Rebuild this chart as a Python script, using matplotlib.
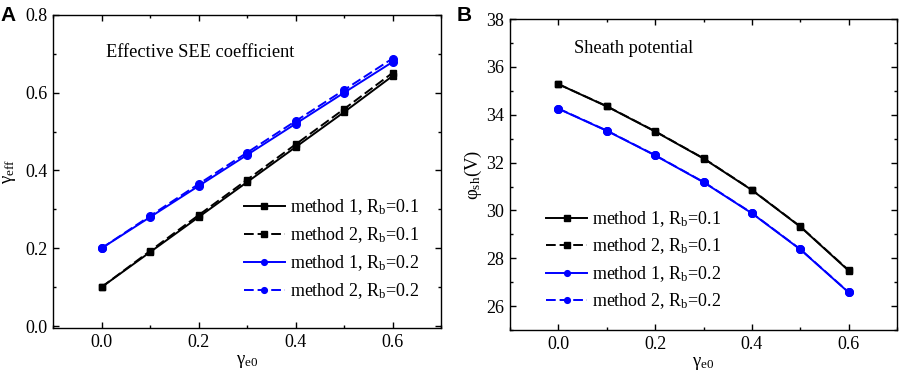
import numpy as np
import matplotlib
matplotlib.use('Agg')
import matplotlib.pyplot as plt
from matplotlib.ticker import MultipleLocator

plt.rcParams['font.family'] = ['Liberation Serif', 'DejaVu Serif']
plt.rcParams['mathtext.fontset'] = 'custom'
plt.rcParams['mathtext.rm'] = 'Liberation Serif'
plt.rcParams['mathtext.it'] = 'Liberation Serif'

gamma_e0 = [0.0, 0.1, 0.2, 0.3, 0.4, 0.5, 0.6]

# panel A: effective SEE coefficient
eff_m1_rb01 = [0.100, 0.190, 0.280, 0.370, 0.460, 0.550, 0.643]
eff_m2_rb01 = [0.100, 0.193, 0.285, 0.376, 0.467, 0.558, 0.651]
eff_m1_rb02 = [0.200, 0.280, 0.360, 0.440, 0.520, 0.600, 0.679]
eff_m2_rb02 = [0.200, 0.283, 0.365, 0.446, 0.527, 0.607, 0.688]

# panel B: sheath potential (V)
phi_m1_rb01 = [35.28, 34.35, 33.30, 32.17, 30.85, 29.32, 27.48]
phi_m2_rb01 = [35.28, 34.36, 33.31, 32.18, 30.86, 29.33, 27.50]
phi_m1_rb02 = [34.25, 33.33, 32.30, 31.18, 29.88, 28.37, 26.57]
phi_m2_rb02 = [34.26, 33.34, 32.31, 31.19, 29.89, 28.38, 26.58]

labels = [r'method 1, $\mathregular{R_b}$=0.1', r'method 2, $\mathregular{R_b}$=0.1',
          r'method 1, $\mathregular{R_b}$=0.2', r'method 2, $\mathregular{R_b}$=0.2']

blue = '#0000ff'
styles = [dict(color='black', ls='-', marker='s', ms=5),
          dict(color='black', ls=(0, (5, 2)), marker='s', ms=5),
          dict(color=blue, ls='-', marker='o', ms=5.5),
          dict(color=blue, ls=(0, (5, 2)), marker='o', ms=5.5)]

fig = plt.figure(figsize=(8.99, 3.71), dpi=100)
axA = fig.add_axes([0.059, 0.116, 0.4316, 0.8437])
axB = fig.add_axes([0.5673, 0.1105, 0.4305, 0.838])


def style_axes(ax):
    for s in ax.spines.values():
        s.set_linewidth(1.0)
    ax.tick_params(which='both', direction='in', top=True, right=True, labelsize=13, pad=4)
    ax.tick_params(which='major', length=4.5, width=1.0)
    ax.tick_params(which='minor', length=2.5, width=1.0)
    ax.xaxis.set_major_locator(MultipleLocator(0.2))
    ax.xaxis.set_minor_locator(MultipleLocator(0.1))
    ax.set_xlim(-0.1, 0.7)
    ax.set_xticks([0.0, 0.2, 0.4, 0.6])
    ax.set_xticklabels(['0.0', '0.2', '0.4', '0.6'])
    ax.set_xlabel(r'$\mathregular{γ_{e0}}$', fontsize=13.5, labelpad=2)


for ys, st, lb in zip([eff_m1_rb01, eff_m2_rb01, eff_m1_rb02, eff_m2_rb02], styles, labels):
    axA.plot(gamma_e0, ys, lw=1.4, label=lb, **st)
style_axes(axA)
axA.set_ylim(-0.005, 0.8)
axA.yaxis.set_major_locator(MultipleLocator(0.2))
axA.yaxis.set_minor_locator(MultipleLocator(0.1))
axA.yaxis.set_major_formatter(matplotlib.ticker.FormatStrFormatter('%.1f'))
axA.set_ylabel(r'$\mathregular{γ_{eff}}$', fontsize=13.5, labelpad=5)
axA.text(0.137, 0.88, 'Effective SEE coefficient', transform=axA.transAxes,
         fontsize=13.2, va='center')
axA.legend(loc='lower right', bbox_to_anchor=(0.975, 0.045), frameon=False, fontsize=13,
           handlelength=2.3, handletextpad=0.25, labelspacing=0.45, markerscale=0.75,
           borderpad=0.2)

for ys, st, lb in zip([phi_m1_rb01, phi_m2_rb01, phi_m1_rb02, phi_m2_rb02], styles, labels):
    axB.plot(gamma_e0, ys, lw=1.4, label=lb, **st)
style_axes(axB)
axB.set_ylim(25, 38)
axB.yaxis.set_major_locator(MultipleLocator(2))
axB.yaxis.set_minor_locator(MultipleLocator(1))
axB.set_ylabel(r'$\mathregular{φ_{sh}}$(V)', fontsize=13.5, labelpad=2)
axB.text(0.165, 0.907, 'Sheath potential', transform=axB.transAxes,
         fontsize=13.2, va='center')
axB.legend(loc='lower left', bbox_to_anchor=(0.06, 0.02), frameon=False, fontsize=13,
           handlelength=2.3, handletextpad=0.25, labelspacing=0.42, markerscale=0.75,
           borderpad=0.2)

fig.text(0.0, 0.985, 'A', fontsize=15, fontweight='bold', family='Liberation Sans', va='top')
fig.text(0.508, 0.985, 'B', fontsize=15, fontweight='bold', family='Liberation Sans', va='top')

fig.savefig('out.png', dpi=100)
